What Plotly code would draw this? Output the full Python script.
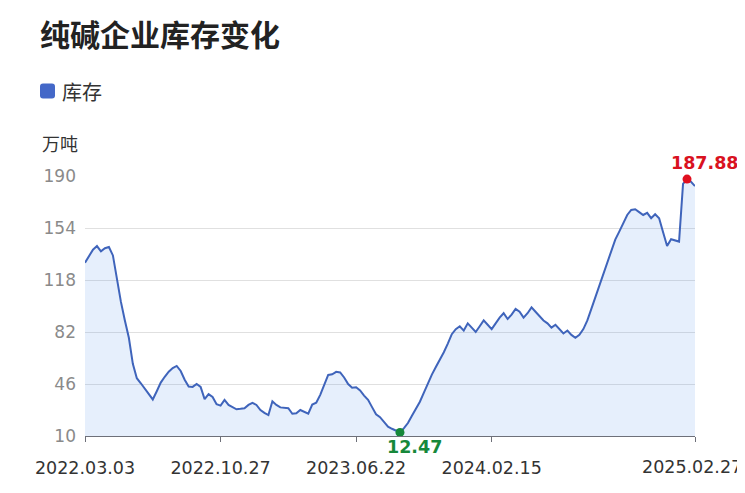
import pandas as pd
import plotly.graph_objects as go

# ---- data ----
all_weeks = pd.date_range("2022-03-03", "2025-02-27", freq="7D")
missing_weeks = ["2024-10-03", "2025-01-30", "2025-02-06"]
dates = [d.strftime("%Y.%m.%d") for d in all_weeks if d.strftime("%Y-%m-%d") not in missing_weeks]

inventory = [
    130, 134.5, 139, 141.5, 137.8, 140, 140.8, 135, 118.5, 103,
    90, 78, 60, 50, 46.5, 42.5, 38.5, 35.3, 41, 47,
    51, 54.5, 57, 58.5, 55, 49, 44.3, 44, 46, 44,
    35.5, 39, 37, 32, 31, 35, 31.5, 29.8, 28.5, 28.8,
    29.2, 31.5, 33, 31.5, 28, 26, 24.5, 34, 31.5, 29.8,
    29.3, 29.2, 25.4, 25.8, 28, 27, 25.5, 31.8, 33, 38.5,
    46, 52.3, 52.7, 54.4, 54, 50.5, 46, 43.4, 43.7, 41.5,
    38, 35, 30, 25, 23, 19.5, 16.4, 15, 13.5, 12.47,
    15.5, 19, 24, 29, 33.7, 40, 46.5, 52.5, 57.8, 62.6,
    68, 74, 80.5, 84, 86, 83, 88, 85, 82, 86,
    90, 87, 84, 88, 92, 95, 91, 94, 98, 96,
    92, 95, 99, 96, 93, 90, 88, 85, 87, 84,
    81, 83, 80, 78, 80, 84, 90, 98, 106, 114,
    121, 129.5, 138, 146, 151.5, 157, 163, 166.5, 167, 165,
    163, 164.5, 160.8, 163.5, 160.7, 151, 141.5, 146.2, 145.5, 144.6,
    184.5, 187.88, 186, 183,
]

y_ticks = [10, 46, 82, 118, 154, 190]
x_tick_idx = [0, 34, 68, 102, len(dates) - 1]
x_ticks = [dates[i] for i in x_tick_idx]

title_text = "纯碱企业库存变化"
series_name = "库存"
unit_text = "万吨"

# ---- derived ----
imax = max(range(len(inventory)), key=lambda i: inventory[i])
imin = min(range(len(inventory)), key=lambda i: inventory[i])

LINE = "#3f64bb"
CJK = "Noto Sans CJK SC"
NUM = "DejaVu Sans"

OFF = 8  # page body margin
W, H = 745 - OFF, 493 - OFF
L, T = 85 - OFF, 176 - OFF
PW, PH = 610, 260
R, B = W - L - PW, H - T - PH


def px2paper(px, py):
    # px, py are in reference-window pixels
    px, py = px - OFF, py - OFF
    return (px - L) / PW, (T + PH - py) / PH


fig = go.Figure()
fig.add_trace(go.Scatter(
    x=dates, y=inventory, mode="lines", name=series_name,
    line=dict(color=LINE, width=2),
    fill="tozeroy", fillcolor="rgba(90,150,235,0.15)",
    showlegend=False, hoverinfo="x+y",
))
fig.add_trace(go.Scatter(
    x=[dates[imax], dates[imin]], y=[inventory[imax], inventory[imin]],
    mode="markers", marker=dict(size=9, color=["#e01020", "#16883a"]),
    showlegend=False, cliponaxis=False, hoverinfo="skip",
))

annotations = [
    dict(x=dates[imax], y=inventory[imax], xref="x", yref="y",
         text=f"<b>{inventory[imax]:.2f}</b>", showarrow=False,
         xanchor="center", yanchor="middle", xshift=18, yshift=16,
         font=dict(family=NUM, size=17.5, color="#d9121f")),
    dict(x=dates[imin], y=inventory[imin], xref="x", yref="y",
         text=f"<b>{inventory[imin]:.2f}</b>", showarrow=False,
         xanchor="center", yanchor="middle", xshift=15, yshift=-15,
         font=dict(family=NUM, size=17.5, color="#16883a")),
]

lx, ly = px2paper(60, 91)
annotations.append(dict(x=lx, y=ly, xref="paper", yref="paper", text=series_name,
                        showarrow=False, xanchor="left", yanchor="middle",
                        font=dict(family=CJK, size=20, color="#333333")))
ux, uy = px2paper(40, 143)
annotations.append(dict(x=ux, y=uy, xref="paper", yref="paper", text=unit_text,
                        showarrow=False, xanchor="left", yanchor="middle",
                        font=dict(family=CJK, size=18, color="#333333")))
# last x label kept inside the window (right-aligned at the edge)
ex, ey = px2paper(744, 467)
annotations.append(dict(x=ex, y=ey, xref="paper", yref="paper", text=x_ticks[-1],
                        showarrow=False, xanchor="right", yanchor="middle",
                        font=dict(family=NUM, size=17.5, color="#333333")))
x_ticktext = x_ticks[:-1] + [""]

# rounded legend square
sx, sy = px2paper(47.5, 91)
r, h = 3, 7.5
path = (f"M {-h+r},{-h} L {h-r},{-h} Q {h},{-h} {h},{-h+r} L {h},{h-r} Q {h},{h} {h-r},{h} "
        f"L {-h+r},{h} Q {-h},{h} {-h},{h-r} L {-h},{-h+r} Q {-h},{-h} {-h+r},{-h} Z")
shapes = [dict(type="path", xref="paper", yref="paper", xsizemode="pixel", ysizemode="pixel",
               xanchor=sx, yanchor=sy, path=path, fillcolor="#4468c8", line=dict(width=0))]

fig.update_layout(
    width=W, height=H,
    margin=dict(l=L, r=R, t=T, b=B, autoexpand=False),
    paper_bgcolor="white", plot_bgcolor="white",
    title=dict(text=f"<b>{title_text}</b>", x=(40 - OFF) / W, xanchor="left", xref="container",
               y=1 - (35 - OFF) / H, yanchor="middle", yref="container",
               font=dict(family=CJK, size=30, color="#222222")),
    showlegend=False,
    annotations=annotations,
    shapes=shapes,
    xaxis=dict(
        type="category", categoryorder="array", categoryarray=dates,
        range=[0, len(dates) - 1], tickmode="array", tickvals=x_ticks, ticktext=x_ticktext,
        showgrid=False, showline=True, linecolor="#6e7079", linewidth=1,
        ticks="outside", ticklen=5, tickcolor="#6e7079",
        tickfont=dict(family=NUM, size=17.5, color="#333333"),
        ticklabelstandoff=11, automargin=False, zeroline=False,
    ),
    yaxis=dict(
        range=[10, 190], tickmode="array", tickvals=y_ticks,
        showgrid=True, gridcolor="#e0e0e0", gridwidth=1, zeroline=False,
        showline=False, ticks="",
        tickfont=dict(family=NUM, size=17, color="#8a8a8a"),
        ticklabelstandoff=8, automargin=False,
    ),
)

fig.write_html("out.html")
